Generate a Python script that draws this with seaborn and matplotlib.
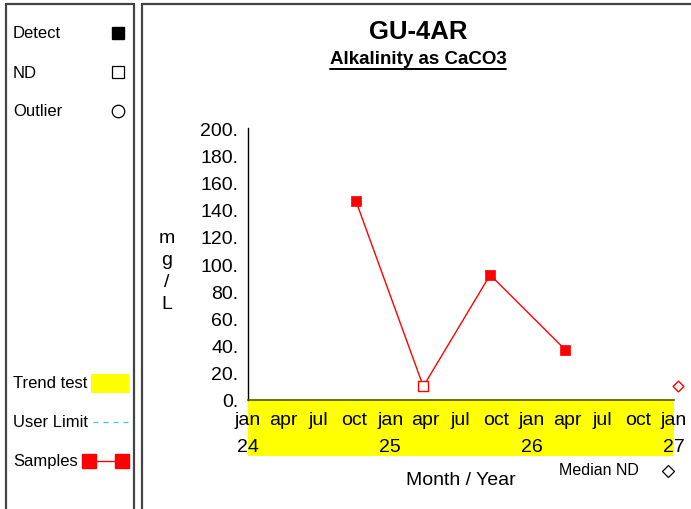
import matplotlib
matplotlib.use("Agg")
import matplotlib.pyplot as plt
from matplotlib.patches import Rectangle
import seaborn as sns
import pandas as pd

# ---- data ----
sample_dates = ["2024-10-05", "2025-03-27", "2025-09-15", "2026-03-27"]
sample_values = [146, 10, 92, 37]
sample_detect = [True, False, True, True]
median_nd_date = ["2027-01-11"]
median_nd_value = [10]
y_ticks = [0, 20, 40, 60, 80, 100, 120, 140, 160, 180, 200]
month_names = ["jan", "apr", "jul", "oct"]
title = "GU-4AR"
subtitle = "Alkalinity as CaCO3"

sns.set_theme(style="white")
plt.rcParams["font.family"] = ["Liberation Sans", "DejaVu Sans"]
plt.rcParams["text.color"] = "black"
plt.rcParams["xtick.labelcolor"] = "black"
plt.rcParams["ytick.labelcolor"] = "black"

W, H = 691, 510
fig = plt.figure(figsize=(W / 100, H / 100), dpi=100)

# background overlay axes in pixel coordinates
bg = fig.add_axes([0, 0, 1, 1], zorder=0)
bg.set_xlim(0, W)
bg.set_ylim(H, 0)
bg.axis("off")

bc = "#444444"
blw = 1.6
bg.plot([6, 6], [5, H], color=bc, lw=blw)
bg.plot([134, 134], [5, H], color=bc, lw=blw)
bg.plot([6, 134], [5, 5], color=bc, lw=blw)
bg.plot([142, 142], [5, H], color=bc, lw=blw)
bg.plot([142, W], [5, 5], color=bc, lw=blw)

lfs = 12
bg.text(13, 34, "Detect", fontsize=lfs, va="center", ha="left")
bg.plot([118], [34], marker="s", ms=9, color="black", mec="black", ls="none")
bg.text(13, 73, "ND", fontsize=lfs, va="center", ha="left")
bg.plot([118], [73], marker="s", ms=9, mfc="white", mec="black", mew=0.9, ls="none")
bg.text(13, 112, "Outlier", fontsize=lfs, va="center", ha="left")
bg.plot([118], [112], marker="o", ms=9, mfc="white", mec="black", mew=0.9, ls="none")

bg.text(13, 384, "Trend test", fontsize=lfs, va="center", ha="left")
bg.add_patch(Rectangle((91, 375), 38, 19, color="#ffff00", lw=0))
bg.text(13, 423, "User Limit", fontsize=lfs, va="center", ha="left")
bg.plot([93, 129], [423, 423], color="#33ccdd", lw=0.9, ls=(0, (4, 4)))
bg.text(13, 462, "Samples", fontsize=lfs, va="center", ha="left")
bg.plot([89, 122], [462, 462], color="red", lw=1.0, marker="s", ms=10, mfc="red", mec="red")

# titles
bg.text(418, 32, title, fontsize=18.5, fontweight="bold", ha="center", va="center")
t2 = bg.text(418, 60, subtitle, fontsize=13.5, fontweight="bold", ha="center", va="center")
fig.canvas.draw()
r = fig.canvas.get_renderer()
bb = t2.get_window_extent(renderer=r)
bg.plot([bb.x0, bb.x1], [70, 70], color="black", lw=1.4)

# y label stacked
for i, ch in enumerate(["m", "g", "/", "L"]):
    bg.text(167, 239 + i * 22, ch, fontsize=14, ha="center", va="center")

bg.text(461, 481, "Month / Year", fontsize=14, ha="center", va="center")
bg.text(559, 471, "Median ND", fontsize=11.5, ha="left", va="center")
bg.plot([668], [472], marker="D", ms=6.5, mfc="white", mec="black", mew=0.9, ls="none")

# ---- main axes ----
ax_l, ax_r, ax_t, ax_b = 248, 674, 129, 401
ax = fig.add_axes([ax_l / W, (H - ax_b) / H, (ax_r - ax_l) / W, (ax_b - ax_t) / H], zorder=1)
ax.patch.set_alpha(0)

df = pd.DataFrame({
    "date": pd.to_datetime(sample_dates),
    "value": sample_values,
    "detect": sample_detect,
})
sns.lineplot(data=df, x="date", y="value", ax=ax, color="red", lw=1.0, zorder=3)
det = df[df["detect"]]
nd = df[~df["detect"]]
sns.scatterplot(data=det, x="date", y="value", ax=ax, marker="s", s=60, color="red",
                edgecolor="red", linewidth=0.5, zorder=4)
sns.scatterplot(data=nd, x="date", y="value", ax=ax, marker="s", s=55, facecolor="white",
                edgecolor="red", linewidth=1.0, zorder=4)
mdf = pd.DataFrame({"date": pd.to_datetime(median_nd_date), "value": median_nd_value})
sns.scatterplot(data=mdf, x="date", y="value", ax=ax, marker="D", s=30, facecolor="white",
                edgecolor="red", linewidth=1.0, zorder=4, clip_on=False)

ax.set_xlim(pd.Timestamp("2024-01-01"), pd.Timestamp("2027-01-01"))
ax.set_ylim(0, 200)
ax.set_xlabel("")
ax.set_ylabel("")

# ticks
xt = pd.date_range("2024-01-01", "2027-01-01", freq="QS")
ax.set_xticks(xt)
labels = []
for d in xt:
    m = month_names[(d.month - 1) // 3]
    if d.month == 1:
        labels.append(f"{m}\n{d.year % 100}")
    else:
        labels.append(m)
ax.set_xticklabels(labels, fontsize=14, linespacing=1.75, va="top")
ax.set_yticks(y_ticks)
ax.set_yticklabels([f"{v}." for v in y_ticks], fontsize=14)
ax.tick_params(axis="x", direction="out", length=6, width=1, color="#555500", pad=2)
ax.tick_params(axis="y", direction="out", length=5, width=1, color="black", pad=2)

for s in ["top", "right"]:
    ax.spines[s].set_visible(False)
ax.spines["left"].set_color("black")
ax.spines["left"].set_linewidth(1)
ax.spines["bottom"].set_color("#555500")
ax.spines["bottom"].set_linewidth(1.2)

# trend-test band below axis
band_h = (457 - 401) / (ax_b - ax_t)
ax.add_patch(Rectangle((0, -band_h), 1, band_h, transform=ax.transAxes, clip_on=False,
                       color="#ffff00", lw=0, zorder=0.5))

fig.savefig("out.png", dpi=100)
